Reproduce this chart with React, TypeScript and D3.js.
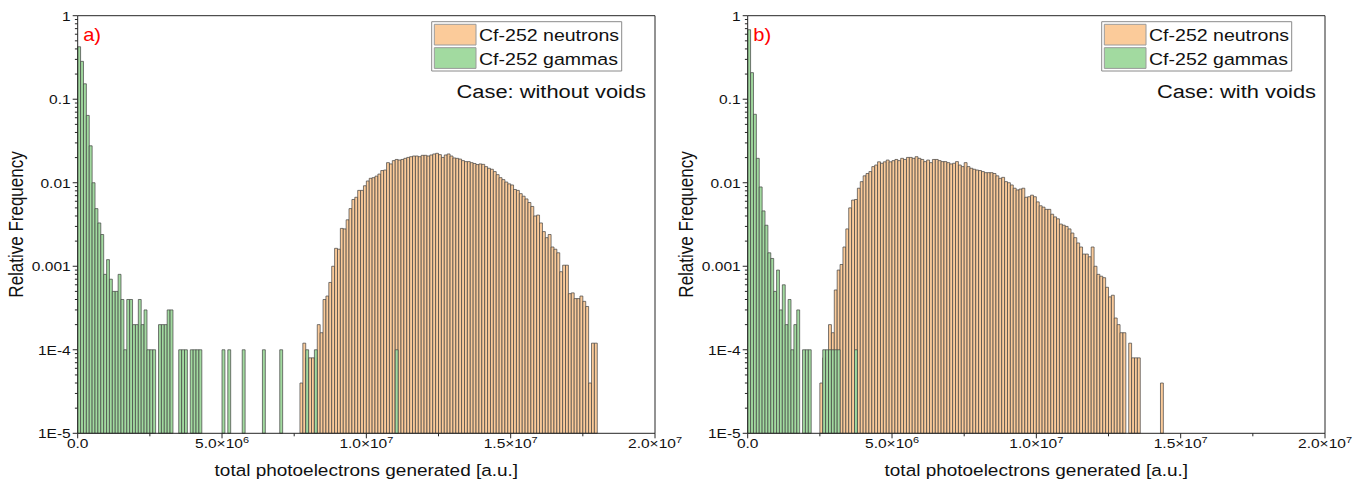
import React from 'react';
import * as d3 from 'd3';

// ---------- data ----------
const binWidth = 1e5;
const xTicks = [0, 5e6, 1e7, 1.5e7, 2e7];
const xTickMain = ['0.0', '5.0×10', '1.0×10', '1.5×10', '2.0×10'];
const xTickSup = ['', '6', '7', '7', '7'];
const yTicks = [1, 0.1, 0.01, 0.001, 1e-4, 1e-5];
const yTickLabels = ['1', '0.1', '0.01', '0.001', '1E-4', '1E-5'];
const seriesNames = ['Cf-252 neutrons', 'Cf-252 gammas'];
const panelTags = ['a)', 'b)'];
const caseTexts = ['Case: without voids', 'Case: with voids'];
const xTitle = 'total photoelectrons generated [a.u.]';
const yTitle = 'Relative Frequency';

// panel a, gammas: bins starting at 0
const gammaAStart = 0;
const gammaA = [
  0.425, 0.284, 0.153, 0.064, 0.0277, 0.01, 0.0049, 0.0033, 0.0024, 0.0008,
  0.0012, 0.0007, 0.0005, 0.0005, 0.0008, 0.0004, 0.0001, 0.0004, 0.0004, 0.0002,
  0.0002, 0.0004, 0.0002, 0.0003, 0.0001, 0.0001, 0.0001, 0, 0.0002, 0.0002,
  0.0002, 0.0003, 0.0003, 0, 0, 0.0001, 0.0001, 0.0001, 0, 0.0001,
  0.0001, 0.0001, 0.0001, 0, 0, 0, 0, 0, 0, 0,
  0.0001, 0, 0.0001, 0, 0, 0, 0, 0.0001, 0, 0,
  0, 0, 0, 0, 0.0001, 0, 0, 0, 0, 0,
  0.0001, 0, 0, 0, 0, 0, 0, 0, 0, 0.0001,
  0, 0, 0.0001, 0, 0, 0, 0, 0, 0, 0,
  0, 0, 0, 0, 0, 0, 0, 0, 0, 0,
  0, 0, 0, 0, 0, 0, 0, 0, 0, 0,
  0.0001,
];
// panel a, neutrons: bins starting at 77 (7.7e6)
const neutronAStart = 77;
const neutronA = [
  0.00004, 0.00012, 0.00008, 0.00008, 0.00008, 0.00008, 0.0002, 0.00016, 0.0004, 0.00044,
  0.00064, 0.001, 0.00164, 0.0016, 0.00284, 0.0028, 0.0036, 0.0049, 0.0063, 0.0067,
  0.0081, 0.0081, 0.0092, 0.0105, 0.0113, 0.0115, 0.012, 0.0127, 0.014, 0.0142,
  0.0174, 0.0168, 0.0184, 0.019, 0.0187, 0.019, 0.0196, 0.0201, 0.0205, 0.0209,
  0.0209, 0.0205, 0.0213, 0.0213, 0.0209, 0.0215, 0.0221, 0.0225, 0.0217, 0.0201,
  0.0215, 0.0221, 0.0209, 0.0198, 0.0196, 0.0192, 0.0184, 0.0179, 0.0179, 0.0174,
  0.017, 0.0165, 0.0168, 0.0166, 0.0156, 0.0149, 0.0145, 0.0136, 0.0125, 0.0115,
  0.0109, 0.0102, 0.0097, 0.0094, 0.0083, 0.0081, 0.0074, 0.0069, 0.0064, 0.0058,
  0.0052, 0.004, 0.0041, 0.0033, 0.0026, 0.0022, 0.0024, 0.0017, 0.0016, 0.00145,
  0.00086, 0.00103, 0.00103, 0.00047, 0.00048, 0.00041, 0.00041, 0.00044, 0.00038, 0.00033,
  0.00004, 0.00012, 0.00012,
];
// panel b, gammas: bins starting at 0
const gammaBStart = 0;
const gammaB = [
  0.68, 0.208, 0.066, 0.0196, 0.0089, 0.0046, 0.0031, 0.00145, 0.00124, 0.0005,
  0.0009, 0.0003, 0.0006, 0.0002, 0.0004, 0.0001, 0.0002, 0.0003, 0, 0.0001,
  0.0001, 0.0001, 0, 0, 0, 0, 0.0001, 0.0001, 0.0001, 0.0001,
  0.0001, 0.0001, 0, 0, 0, 0, 0, 0.0001,
];
// panel b, neutrons: bins starting at 25 (2.5e6)
const neutronBStart = 25;
const neutronB = [
  0.00004, 0.00008, 0.00008, 0.0002, 0.00016, 0.00052, 0.0009, 0.00105, 0.0017, 0.0028,
  0.005, 0.0062, 0.0063, 0.0086, 0.0103, 0.0121, 0.0129, 0.0136, 0.0156, 0.0163,
  0.0178, 0.0171, 0.0178, 0.0187, 0.0178, 0.0184, 0.019, 0.0184, 0.0196, 0.019,
  0.0201, 0.0201, 0.0196, 0.0205, 0.0196, 0.019, 0.0179, 0.0187, 0.0174, 0.019,
  0.019, 0.0184, 0.0179, 0.0179, 0.0174, 0.0168, 0.0171, 0.0179, 0.0163, 0.0156,
  0.0174, 0.0156, 0.0149, 0.0145, 0.0142, 0.014, 0.0136, 0.0132, 0.0132, 0.0132,
  0.0129, 0.0121, 0.0113, 0.0116, 0.0103, 0.01, 0.0094, 0.0086, 0.0082, 0.0084,
  0.0086, 0.0067, 0.0068, 0.0071, 0.0068, 0.0059, 0.0053, 0.0051, 0.0048, 0.0048,
  0.0042, 0.0039, 0.0037, 0.0032, 0.0031, 0.003, 0.0028, 0.0025, 0.0022, 0.0019,
  0.0017, 0.0014, 0.0014, 0.0013, 0.0017, 0.001, 0.0008, 0.00076, 0.00073, 0.00056,
  0.00043, 0.00045, 0.00024, 0.0002, 0.00016, 0.00016, 0, 0.00012, 0.00008, 0.00008,
  0.00008, 0, 0, 0, 0, 0, 0, 0, 0.00004,
];

// ---------- layout ----------
const W = 1364;
const H = 489;
const SX = 1.15; // horizontal stretch of the original picture
const PLOT_W = 577.3;
const TOP = 15.7;
const BOTTOM = 433.3;
const FONT = "'Liberation Sans', Arial, Helvetica, sans-serif";
const ORANGE = '#FBCB9A';
const GREEN = '#A2DAA0';
const BAR_STROKE = '#404040';

const panels = [
  { x0: 77.7, tag: panelTags[0], caseText: caseTexts[0], gamma: gammaA, gStart: gammaAStart, neutron: neutronA, nStart: neutronAStart },
  { x0: 747.7, tag: panelTags[1], caseText: caseTexts[1], gamma: gammaB, gStart: gammaBStart, neutron: neutronB, nStart: neutronBStart },
];

function Panel({ p }: { p: any }) {
  const x = d3.scaleLinear().domain([0, 2e7]).range([p.x0 / SX, (p.x0 + PLOT_W) / SX]);
  const y = d3.scaleLog().domain([1e-5, 1]).range([BOTTOM, TOP]);
  const bw = x(binWidth) - x(0);
  const base = y(1e-5);
  const bars = (vals: number[], start: number, fill: string, key: string) =>
    vals.map((v, i) =>
      v > 0 ? (
        <rect
          key={key + i}
          x={x((start + i) * binWidth)}
          y={y(v)}
          width={bw}
          height={base - y(v)}
          fill={fill}
          stroke={BAR_STROKE}
          strokeWidth={0.7}
          vectorEffect="non-scaling-stroke"
        />
      ) : null
    );
  const minorY: number[] = [];
  for (let e = -5; e < 0; e++) for (let m = 2; m <= 9; m++) minorY.push(m * Math.pow(10, e));
  const minorX = d3.range(0, 2e7 + 1, 2.5e6).filter((v) => v % 5e6 !== 0);
  const left = x(0);
  const right = x(2e7);
  const ox = (px: number) => (p.x0 + px) / SX; // offset from axis in real px
  const lx = (rx: number) => (p.x0 + rx - 77.7) / SX; // legend coords relative to panel a
  return (
    <g>
      {bars(p.neutron, p.nStart, ORANGE, 'n')}
      {bars(p.gamma, p.gStart, GREEN, 'g')}
      <rect x={left} y={TOP} width={right - left} height={BOTTOM - TOP} fill="none" stroke="#262626" strokeWidth={1} vectorEffect="non-scaling-stroke" />
      {/* y ticks */}
      {yTicks.map((v, i) => (
        <g key={'yt' + i}>
          <line x1={left} x2={ox(-5)} y1={y(v)} y2={y(v)} stroke="#262626" strokeWidth={1} vectorEffect="non-scaling-stroke" />
          <text x={ox(-7)} y={y(v) + 4.9} textAnchor="end" fontSize={13.5} fontFamily={FONT} fill="#111">{yTickLabels[i]}</text>
        </g>
      ))}
      {minorY.map((v, i) => (
        <line key={'ym' + i} x1={left} x2={ox(-2.8)} y1={y(v)} y2={y(v)} stroke="#262626" strokeWidth={1} vectorEffect="non-scaling-stroke" />
      ))}
      {/* x ticks */}
      {xTicks.map((v, i) => (
        <g key={'xt' + i}>
          <line x1={x(v)} x2={x(v)} y1={BOTTOM} y2={BOTTOM + 5} stroke="#262626" strokeWidth={1} vectorEffect="non-scaling-stroke" />
          <text x={x(v)} y={BOTTOM + 15} textAnchor="middle" fontSize={13.5} fontFamily={FONT} fill="#111">
            {xTickMain[i]}
            {xTickSup[i] ? <tspan fontSize={9.5} dy={-5.5}>{xTickSup[i]}</tspan> : null}
          </text>
        </g>
      ))}
      {minorX.map((v, i) => (
        <line key={'xm' + i} x1={x(v)} x2={x(v)} y1={BOTTOM} y2={BOTTOM + 3} stroke="#262626" strokeWidth={1} vectorEffect="non-scaling-stroke" />
      ))}
      <text x={(left + right) / 2} y={476} textAnchor="middle" fontSize={16.5} fontFamily={FONT} fill="#111">{xTitle}</text>
      <text transform={`translate(${ox(-55)},${(TOP + BOTTOM) / 2}) rotate(-90)`} textAnchor="middle" fontSize={17} fontFamily={FONT} fill="#111">{yTitle}</text>
      {/* tag */}
      <text x={ox(5.5)} y={41} fontSize={17.5} fontFamily={FONT} fill="#FF0000">{p.tag}</text>
      {/* legend */}
      <rect x={lx(431.7)} y={21.7} width={190 / SX} height={49.3} fill="#fff" stroke="#8a8a8a" strokeWidth={1} vectorEffect="non-scaling-stroke" />
      <rect x={lx(434.3)} y={24.3} width={41.7 / SX} height={20.7} fill={ORANGE} stroke="#9a9a9a" strokeWidth={1} vectorEffect="non-scaling-stroke" />
      <rect x={lx(434.3)} y={47.7} width={41.7 / SX} height={20.7} fill={GREEN} stroke="#9a9a9a" strokeWidth={1} vectorEffect="non-scaling-stroke" />
      <text x={lx(479)} y={41.5} fontSize={17} fontFamily={FONT} fill="#111">{seriesNames[0]}</text>
      <text x={lx(479)} y={65} fontSize={17} fontFamily={FONT} fill="#111">{seriesNames[1]}</text>
      <text x={lx(646)} y={98} textAnchor="end" fontSize={19} fontFamily={FONT} fill="#111">{p.caseText}</text>
    </g>
  );
}

export default function App() {
  return (
    <svg
      width={W}
      height={H}
      viewBox={`0 0 ${W / SX} ${H}`}
      preserveAspectRatio="none"
      style={{ position: 'absolute', left: 0, top: 0, background: '#fff' }}
    >
      <rect x={0} y={0} width={W / SX} height={H} fill="#fff" />
      {panels.map((p, i) => (
        <Panel key={i} p={p} />
      ))}
    </svg>
  );
}
